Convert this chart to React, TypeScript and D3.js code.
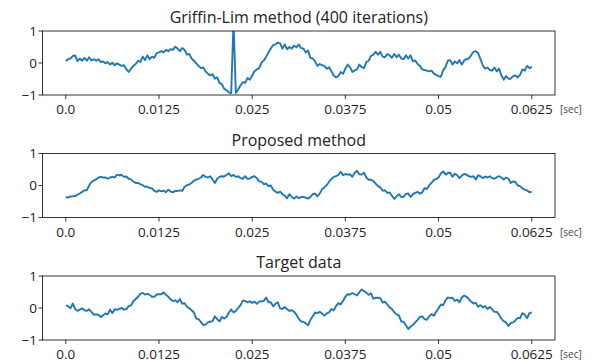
import React from "react";
import * as d3 from "d3";

// waveform samples, 201 points over 0 .. 0.0625 sec
const griffinLim = [
  0.06, 0.12, 0.14, 0.22, 0.24, 0.06, 0.14, 0.07, 0.16, 0.07,
  0.18, 0.08, 0.12, 0.07, 0.12, 0.03, 0.05, -0.01, 0.03, -0.05,
  0.01, -0.07, -0.01, -0.05, -0.09, -0.07, -0.2, -0.28, -0.18, -0.09,
  -0.03, 0.07, 0.03, 0.2, 0.09, 0.24, 0.12, 0.2, 0.16, 0.31,
  0.33, 0.37, 0.33, 0.41, 0.37, 0.43, 0.41, 0.51, 0.45, 0.37,
  0.47, 0.41, 0.26, 0.28, 0.14, 0.07, -0.01, -0.09, -0.16, -0.14,
  -0.26, -0.33, -0.39, -0.35, -0.49, -0.45, -0.62, -0.66, -0.81, -0.85,
  -0.92, -0.94, 1.3, -0.94, -0.83, -0.7, -0.6, -0.62, -0.47, -0.52,
  -0.39, -0.26, -0.2, -0.16, 0.01, 0.08, 0.19, 0.33, 0.45, 0.56,
  0.58, 0.64, 0.61, 0.45, 0.58, 0.43, 0.5, 0.45, 0.54, 0.49,
  0.58, 0.47, 0.45, 0.33, 0.39, 0.16, 0.14, 0.05, -0.09, -0.03,
  -0.07, -0.09, -0.18, -0.13, -0.26, -0.39, -0.45, -0.41, -0.28, -0.34,
  -0.18, -0.05, -0.13, -0.28, -0.23, -0.2, -0.05, -0.13, -0.16, 0.03,
  0.07, 0.22, 0.26, 0.35, 0.26, 0.35, 0.2, 0.18, 0.28, 0.24,
  0.16, 0.28, 0.18, 0.26, 0.14, 0.12, 0.24, 0.14, 0.24, 0.05,
  0.08, -0.03, -0.09, -0.2, -0.22, -0.24, -0.26, -0.24, -0.33, -0.37,
  -0.41, -0.43, -0.23, -0.13, 0.07, 0.09, -0.05, 0.05, -0.01, 0.09,
  -0.05, 0.08, 0.12, 0.14, 0.24, 0.35, 0.37, 0.31, 0.12, -0.07,
  -0.18, -0.14, -0.22, -0.24, -0.14, -0.26, -0.18, -0.39, -0.52, -0.41,
  -0.49, -0.49, -0.41, -0.39, -0.45, -0.37, -0.2, -0.24, -0.09, -0.16, -0.12,
];

const proposed = [
  -0.36, -0.38, -0.34, -0.34, -0.33, -0.29, -0.25, -0.2, -0.15, -0.15,
  0.0, 0.11, 0.15, 0.19, 0.25, 0.27, 0.25, 0.25, 0.21, 0.25,
  0.27, 0.25, 0.34, 0.32, 0.33, 0.27, 0.28, 0.21, 0.19, 0.12,
  0.08, 0.08, 0.04, 0.01, -0.04, -0.04, -0.08, -0.09, -0.17, -0.2,
  -0.15, -0.18, -0.16, -0.21, -0.13, -0.19, -0.21, -0.17, -0.17, -0.15,
  -0.17, -0.04, 0.01, 0.03, 0.08, 0.15, 0.18, 0.21, 0.25, 0.33,
  0.27, 0.25, 0.29, 0.19, 0.08, 0.21, 0.27, 0.29, 0.28, 0.33,
  0.38, 0.29, 0.33, 0.27, 0.29, 0.23, 0.21, 0.29, 0.21, 0.22,
  0.27, 0.29, 0.23, 0.13, 0.12, 0.04, 0.06, -0.02, 0.0, -0.13,
  -0.19, -0.23, -0.19, -0.27, -0.32, -0.4, -0.27, -0.36, -0.41, -0.34,
  -0.4, -0.36, -0.36, -0.38, -0.41, -0.36, -0.27, -0.25, -0.34, -0.25,
  -0.12, -0.06, 0.01, 0.12, 0.2, 0.27, 0.29, 0.33, 0.43, 0.32,
  0.36, 0.34, 0.35, 0.27, 0.4, 0.46, 0.35, 0.34, 0.4, 0.25,
  0.18, 0.18, 0.14, 0.06, -0.02, -0.06, -0.16, -0.15, -0.23, -0.22,
  -0.32, -0.42, -0.34, -0.27, -0.36, -0.35, -0.26, -0.25, -0.36, -0.27,
  -0.23, -0.2, -0.25, -0.22, -0.08, -0.11, 0.01, 0.08, 0.18, 0.2,
  0.25, 0.38, 0.44, 0.34, 0.39, 0.4, 0.27, 0.37, 0.32, 0.23,
  0.31, 0.36, 0.34, 0.29, 0.27, 0.29, 0.19, 0.32, 0.29, 0.23,
  0.28, 0.25, 0.29, 0.23, 0.21, 0.26, 0.29, 0.25, 0.19, 0.25,
  0.21, 0.08, 0.13, 0.11, 0.0, -0.02, -0.09, -0.13, -0.15, -0.21, -0.2,
];

const target = [
  0.08, 0.06, -0.01, 0.14, -0.03, -0.09, -0.05, -0.01, -0.07, -0.09,
  -0.04, -0.12, -0.21, -0.2, -0.21, -0.28, -0.23, -0.17, -0.2, -0.05,
  -0.16, -0.04, -0.06, -0.03, 0.0, -0.05, -0.03, 0.06, 0.08, 0.21,
  0.28, 0.35, 0.44, 0.47, 0.42, 0.44, 0.41, 0.35, 0.35, 0.42,
  0.43, 0.43, 0.49, 0.41, 0.35, 0.27, 0.22, 0.24, 0.18, 0.28,
  0.13, 0.15, 0.04, -0.01, -0.07, -0.14, -0.33, -0.35, -0.44, -0.53,
  -0.52, -0.45, -0.43, -0.41, -0.26, -0.35, -0.42, -0.28, -0.33, -0.28,
  -0.14, -0.05, -0.14, -0.09, 0.0, 0.09, 0.23, 0.22, 0.18, 0.21,
  0.16, 0.2, 0.13, 0.2, 0.21, 0.22, 0.33, 0.18, 0.18, 0.05,
  0.13, 0.18, -0.01, -0.03, 0.03, -0.04, -0.09, -0.07, -0.12, -0.21,
  -0.34, -0.42, -0.43, -0.48, -0.54, -0.37, -0.26, -0.14, -0.16, -0.12,
  -0.17, -0.24, -0.17, -0.14, -0.03, -0.08, 0.06, 0.15, 0.11, 0.22,
  0.35, 0.43, 0.42, 0.47, 0.43, 0.39, 0.49, 0.58, 0.53, 0.48,
  0.41, 0.46, 0.29, 0.32, 0.32, 0.31, 0.17, 0.2, 0.11, 0.02,
  -0.03, -0.13, -0.2, -0.24, -0.42, -0.43, -0.54, -0.66, -0.58, -0.53,
  -0.45, -0.37, -0.28, -0.26, -0.35, -0.37, -0.26, -0.19, -0.24, -0.12,
  -0.01, 0.11, 0.09, 0.24, 0.33, 0.31, 0.32, 0.22, 0.26, 0.18,
  0.33, 0.39, 0.35, 0.28, 0.2, 0.14, 0.16, 0.04, 0.09, 0.02,
  0.06, -0.03, 0.03, -0.04, -0.12, -0.12, -0.21, -0.34, -0.41, -0.45,
  -0.56, -0.47, -0.45, -0.39, -0.31, -0.32, -0.16, -0.21, -0.32, -0.16, -0.14,
];

const titles = ["Griffin-Lim method (400 iterations)", "Proposed method", "Target data"];
const xTicks = [0, 0.0125, 0.025, 0.0375, 0.05, 0.0625];
const xTickLabels = ["0.0", "0.0125", "0.025", "0.0375", "0.05", "0.0625"];
const yTicks = [-1, 0, 1];
const yTickLabels = ["\u22121", "0", "1"];
const duration = 0.0625;

const W = 595;
const H = 362;
const left = 42.5;
const right = 555;
const axTop = [31, 153.5, 276];
const axH = 64;
const font = "'Open Sans', 'DejaVu Sans', sans-serif";
const blue = "#1f77b4";

const App = () => {
  const series = [griffinLim, proposed, target];
  const step = duration / (griffinLim.length - 1);

  const x = d3.scaleLinear()
    .domain([-duration * 0.05, duration * 1.05])
    .range([left, right]);

  return (
    <svg width={W} height={H} style={{ position: "absolute", left: 0, top: 0, background: "#fff" }}>
      {series.map((vals, k) => {
        const top = axTop[k];
        const y = d3.scaleLinear().domain([-1, 1]).range([top + axH, top]);
        const line = d3.line<number>()
          .x((_, i) => x(i * step))
          .y(d => y(d));
        return (
          <g key={k}>
            <defs>
              <clipPath id={`clip${k}`}>
                <rect x={left} y={top} width={right - left} height={axH} />
              </clipPath>
            </defs>
            <path d={line(vals) || ""} fill="none" stroke={blue} strokeWidth={1.9}
              strokeLinejoin="round" clipPath={`url(#clip${k})`} />
            <rect x={left} y={top} width={right - left} height={axH}
              fill="none" stroke="#000" strokeWidth={0.8} />
            <text x={(left + right) / 2} y={top - 8} textAnchor="middle"
              fontFamily={font} fontSize={16} fill="#222">{titles[k]}</text>
            {xTicks.map((t, i) => (
              <g key={t} transform={`translate(${x(t)},${top + axH})`}>
                <line y2={4} stroke="#000" strokeWidth={0.8} />
                <text y={19} textAnchor="middle" fontFamily={font} fontSize={13.5} fill="#222">
                  {xTickLabels[i]}
                </text>
              </g>
            ))}
            {yTicks.map((t, i) => (
              <g key={t} transform={`translate(${left},${y(t)})`}>
                <line x2={-4} stroke="#000" strokeWidth={0.8} />
                <text x={-5.5} dy="0.35em" textAnchor="end" fontFamily={font} fontSize={13.5} fill="#222">
                  {yTickLabels[i]}
                </text>
              </g>
            ))}
            <text x={560} y={top + axH + 18} fontFamily={font} fontSize={10} fill="#444">[sec]</text>
          </g>
        );
      })}
    </svg>
  );
};

export default App;
